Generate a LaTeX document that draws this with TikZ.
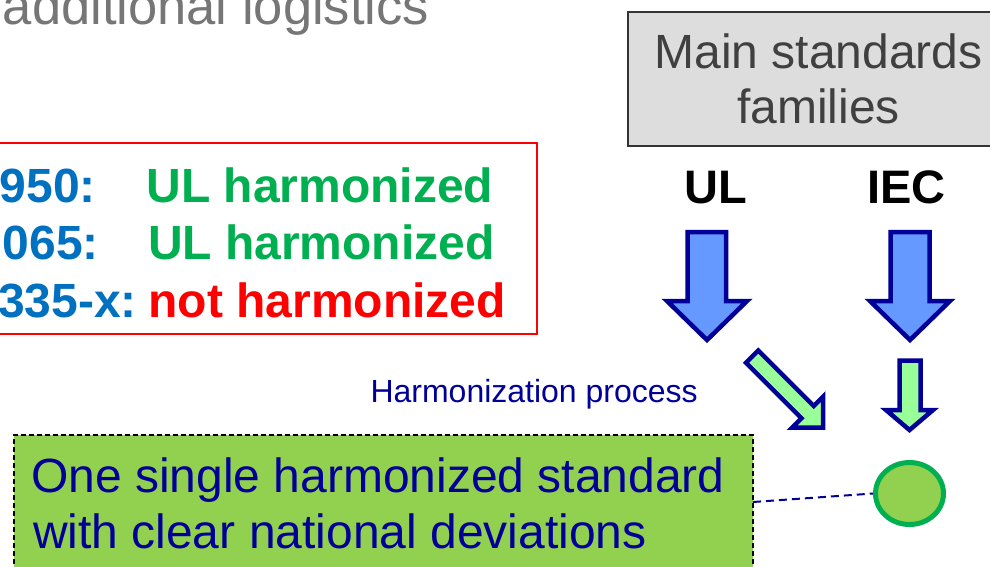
\documentclass[tikz,border=0pt]{standalone}
\usepackage{fontspec}
\setmainfont{Liberation Sans}
\usetikzlibrary{shapes.geometric}
\definecolor{titlegray}{HTML}{767676}
\definecolor{lblblue}{HTML}{0070C0}
\definecolor{okgreen}{HTML}{00B050}
\definecolor{famfill}{HTML}{DDDDDD}
\definecolor{famtext}{HTML}{404040}
\definecolor{famline}{HTML}{333333}
\definecolor{arrblue}{HTML}{6699FF}
\definecolor{navy}{HTML}{000099}
\definecolor{arrgreen}{HTML}{99FF99}
\definecolor{boxgreen}{HTML}{92D050}
\newcommand\fsz[1]{\fontsize{#1}{#1}\selectfont}
\begin{document}
\begin{tikzpicture}[x=1pt,y=-1pt,
  txt/.style={inner sep=0pt, outer sep=0pt},
  bigtxt/.style={txt, font=\fsz{48}},
  boldtxt/.style={txt, font=\fsz{48}\bfseries},
  blockblue/.style={fill=arrblue, draw=navy, line width=4.5pt, line join=miter},
  blockgreen/.style={fill=arrgreen, draw=navy, line width=4.5pt, line join=miter},
  plainbox/.style={inner sep=0pt, outer sep=0pt}]
\useasboundingbox (0,0) rectangle (990,566);
\clip (0,0) rectangle (990,566);
\fill[white] (0,0) rectangle (990,566);

% title fragment
\node[txt, anchor=base east, text=titlegray, font=\fsz{52.5}] (title) at (429,24) {additional logistics};

% comparison box
\node[plainbox, draw=red, line width=2pt, minimum width=557pt, minimum height=191pt] (cmp) at (258.5,238.5) {};
\node[boldtxt, anchor=base east, text=lblblue] (s1) at (96,202) {950:};
\node[boldtxt, anchor=base east, text=lblblue] (s2) at (99,259) {065:};
\node[boldtxt, anchor=base east, text=lblblue] (s3) at (137,317) {335-x:};
\node[boldtxt, anchor=base west, text=okgreen] (h1) at (146.5,202) {UL harmonized};
\node[boldtxt, anchor=base west, text=okgreen] (h2) at (148,259) {UL harmonized};
\node[boldtxt, anchor=base west, text=red] (h3) at (148.5,317) {not harmonized};

% families box
\node[plainbox, draw=famline, fill=famfill, line width=2pt, minimum width=381pt, minimum height=134pt] (fam) at (818.5,79) {};
\node[bigtxt, anchor=base, text=famtext] (fam1) at (818.5,68) {Main standards};
\node[bigtxt, anchor=base, text=famtext] (fam2) at (818.5,123) {families};

\node[txt, anchor=base, font=\fsz{47}\bfseries] (ul) at (715.5,203) {UL};
\node[txt, anchor=base, font=\fsz{47}\bfseries] (iec) at (906.5,203) {IEC};

% block arrows
\draw[blockblue] (687.5,232) -- (726,232) -- (726,301) -- (747,301) -- (707,340) -- (667,301) -- (687.5,301) -- cycle;
\draw[blockblue] (890.5,232) -- (929.5,232) -- (929.5,301) -- (950,301) -- (910,340) -- (870,301) -- (890.5,301) -- cycle;
\draw[blockgreen] (899.5,360.5) -- (920.5,360.5) -- (920.5,410) -- (933,410) -- (909.5,430) -- (886,410) -- (899.5,410) -- cycle;
\draw[blockgreen] (758.25,350.45) -- (813.76,405.96) -- (823.17,396.55) -- (823.16,427.66) -- (792.05,427.67) -- (801.46,418.26) -- (745.95,362.75) -- cycle;

\node[txt, anchor=base west, text=navy, font=\fsz{32}] (proc) at (370.5,402) {Harmonization process};

% result box
\node[plainbox, draw=black, fill=boxgreen, line width=1.5pt, dash pattern=on 5pt off 3pt, minimum width=739pt, minimum height=134pt] (gbox) at (383.5,502) {};
\node[bigtxt, anchor=base west, text=navy] (g1) at (31,492) {One single harmonized standard};
\node[bigtxt, anchor=base west, text=navy] (g2) at (33,548) {with clear national deviations};

\node[ellipse, draw=okgreen, fill=boxgreen, line width=5pt, minimum width=68pt, minimum height=62pt, inner sep=0pt] (ell) at (909.5,493.5) {};
\draw[navy, line width=2pt, dash pattern=on 8pt off 5pt] (gbox.east) -- (ell.west);
\end{tikzpicture}
\end{document}
